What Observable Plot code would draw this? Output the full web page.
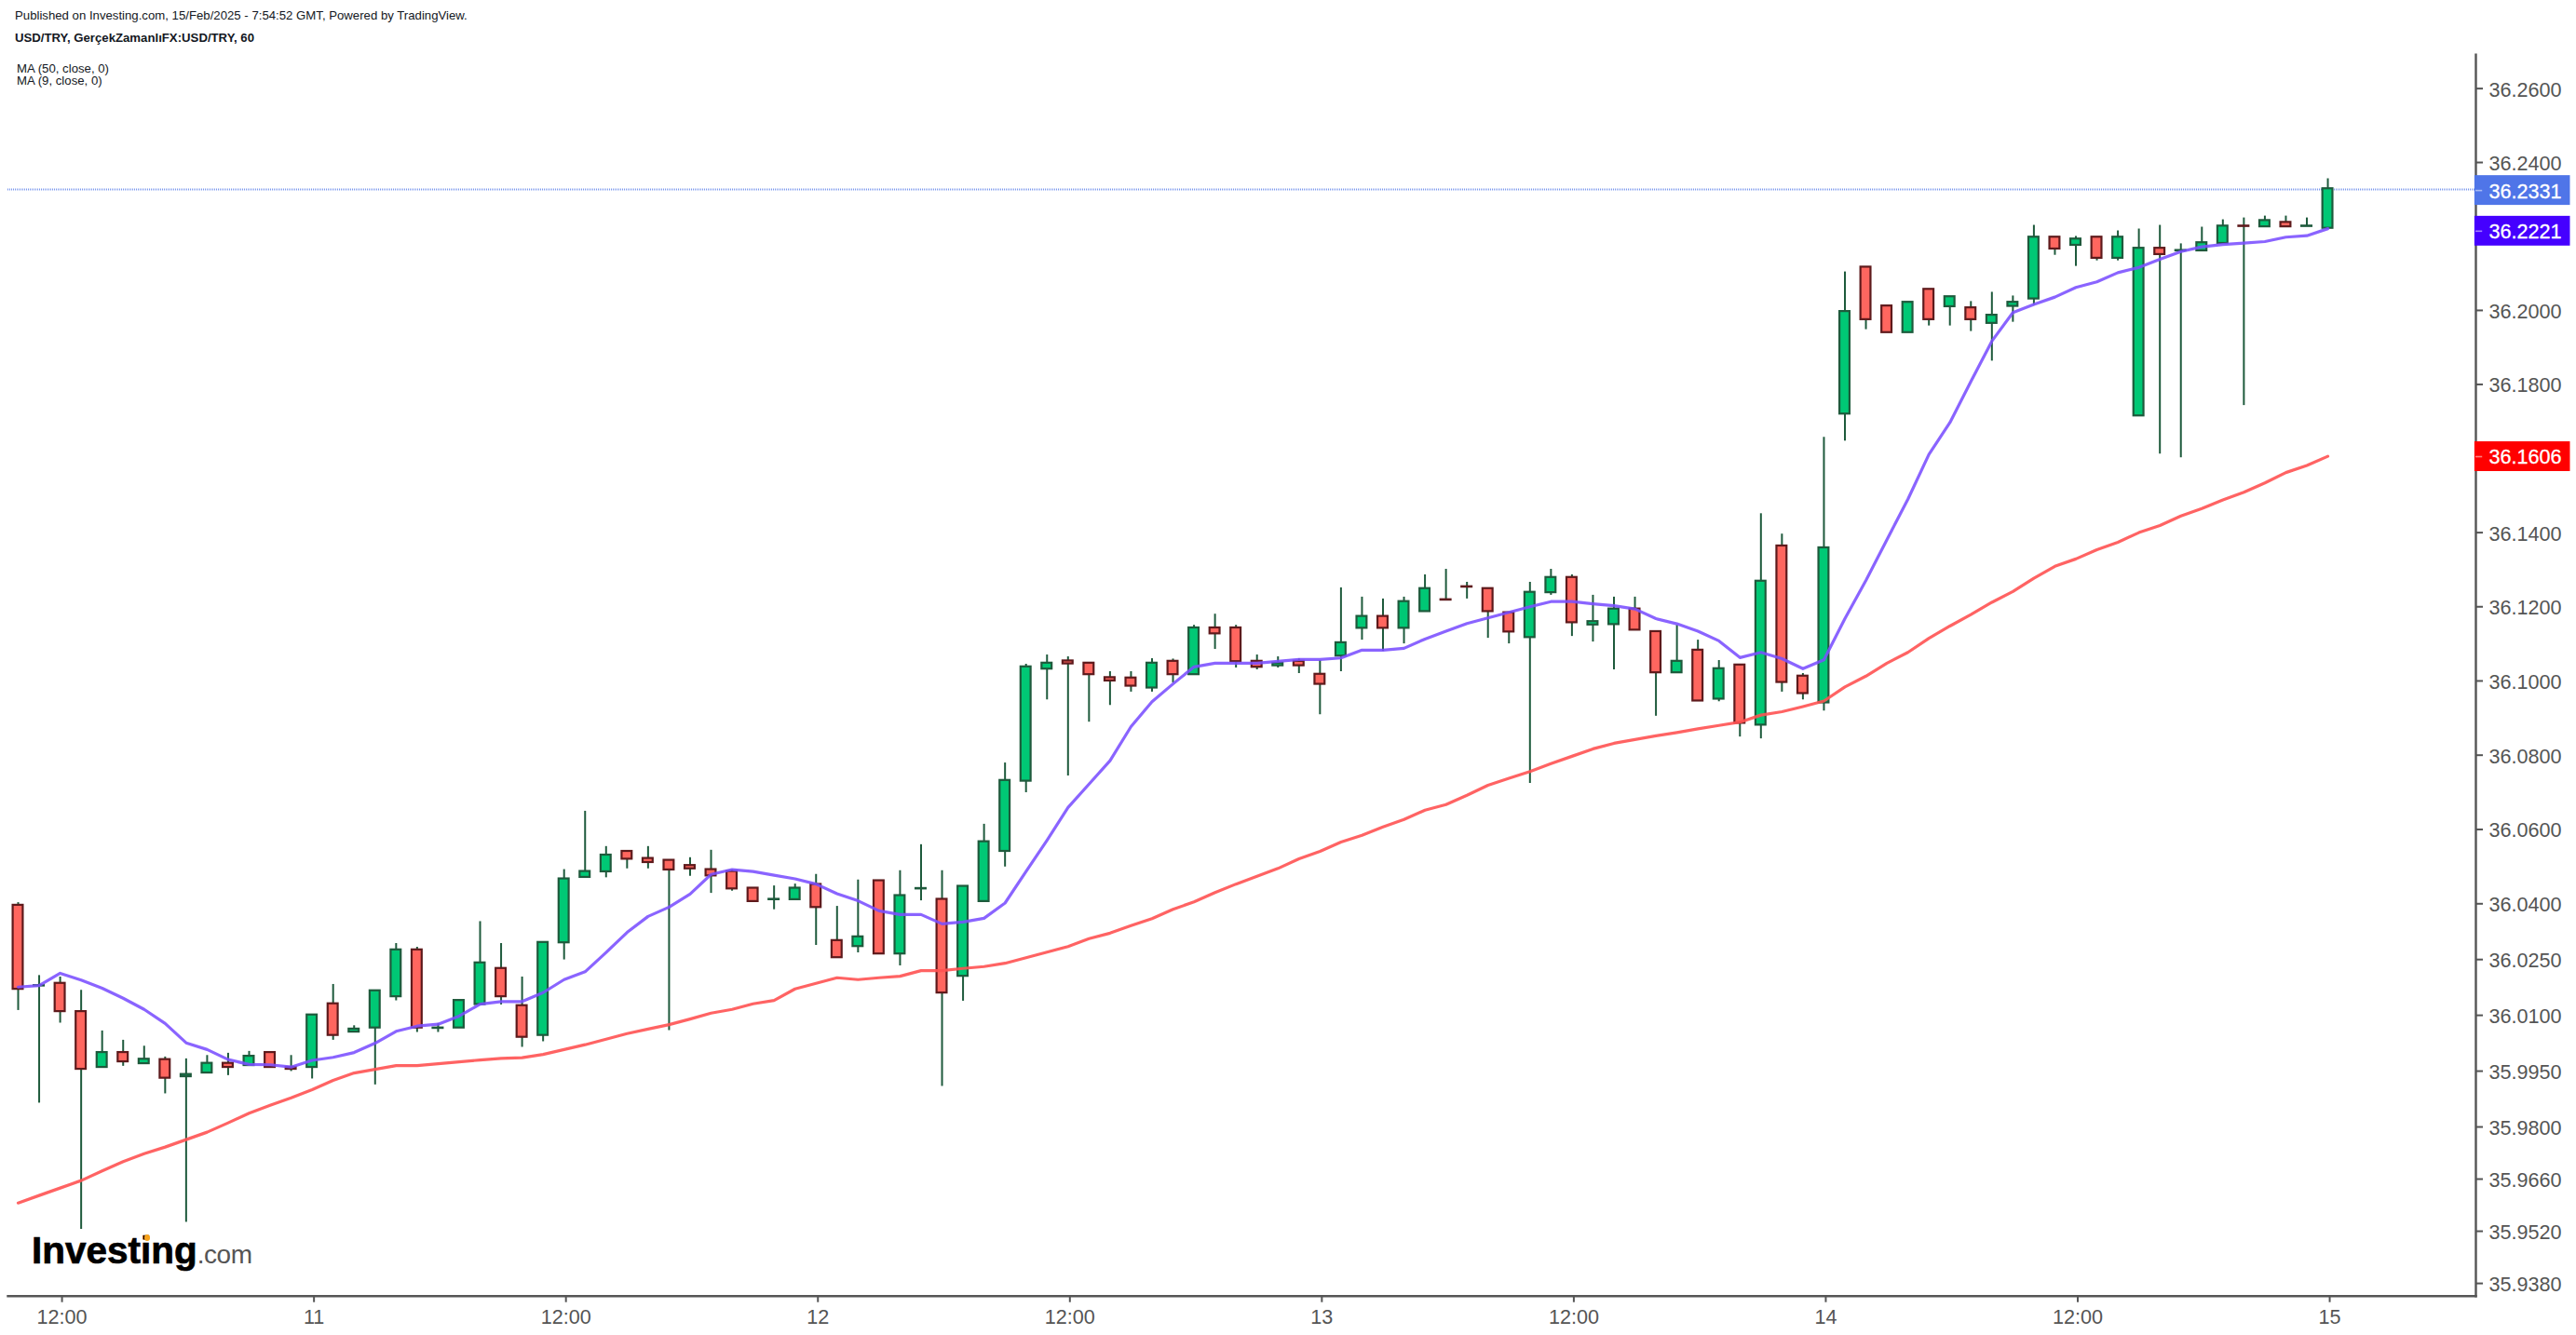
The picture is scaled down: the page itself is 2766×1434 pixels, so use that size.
<!DOCTYPE html>
<html>
<head>
<meta charset="utf-8">
<script src="https://cdn.jsdelivr.net/npm/d3@7"></script>
<script src="https://cdn.jsdelivr.net/npm/@observablehq/plot@0.6"></script>
<style>
  body { margin: 0; background: #fff; font-family: "Liberation Sans", Arial, sans-serif; }
  #wrap { position: relative; width: 2766px; height: 1434px; overflow: hidden; }
  #wrap svg { position: absolute; left: 0; top: 0; }
  .note { position: absolute; white-space: nowrap; color: #131722; font-size: 13.2px; line-height: 14px; z-index: 2; }
  .logo { position: absolute; left: 34px; top: 1320px; white-space: nowrap; color: #000; font-weight: bold; font-size: 40.5px; line-height: 46px; -webkit-text-stroke: 0.7px #000; z-index: 2; }
  .logo span { color: #555; font-weight: normal; font-size: 28px; letter-spacing: -0.5px; -webkit-text-stroke: 0; }
  .logo i { position: absolute; left: 121px; top: 6px; width: 6px; height: 7px; background: #f7a21b; border-radius: 3px; }
</style>
</head>
<body>
<div id="wrap">
  <div class="note" style="left:16px;top:10px">Published on Investing.com, 15/Feb/2025 - 7:54:52 GMT, Powered by TradingView.</div>
  <div class="note" style="left:16px;top:34px;font-weight:bold">USD/TRY, GerçekZamanlıFX:USD/TRY, 60</div>
  <div class="note" style="left:18px;top:67px;line-height:13px">MA (50, close, 0)<br>MA (9, close, 0)</div>
  <div class="logo">Investing<span>.com</span><i></i></div>
</div>
<script>
const open = [
  36.0396,36.0179,36.0186,36.0110,35.9960,36.0000,35.9970,35.9981,35.9935,35.9945,
  35.9971,35.9965,36.0000,35.9960,35.9960,36.0131,36.0055,36.0066,36.0150,36.0276,
  36.0065,36.0066,36.0129,36.0226,36.0126,36.0046,36.0295,36.0471,36.0486,36.0541,
  36.0522,36.0517,36.0503,36.0492,36.0487,36.0442,36.0411,36.0411,36.0452,36.0301,
  36.0285,36.0462,36.0265,36.0440,36.0412,36.0205,36.0406,36.0541,36.0730,36.1032,
  36.1054,36.1048,36.1009,36.1008,36.0981,36.1053,36.1017,36.1143,36.1143,36.1053,
  36.1041,36.1053,36.1018,36.1067,36.1142,36.1174,36.1142,36.1187,36.1219,36.1254,
  36.1249,36.1184,36.1117,36.1238,36.1279,36.1151,36.1152,36.1194,36.1133,36.1022,
  36.1083,36.0951,36.1043,36.0881,36.1364,36.1013,36.0941,36.1720,36.2117,36.2012,
  36.1940,36.2057,36.2010,36.2007,36.1965,36.2011,36.2031,36.2198,36.2176,36.2198,
  36.2141,36.1715,36.2168,36.2161,36.2161,36.2181,36.2228,36.2226,36.2238,36.2227,
  36.2222
];
const high = [
  36.0403,36.0207,36.0203,36.0167,36.0058,36.0033,36.0017,35.9988,35.9983,35.9992,
  35.9998,36.0003,36.0000,35.9992,36.0101,36.0183,36.0072,36.0166,36.0293,36.0283,
  36.0078,36.0140,36.0352,36.0293,36.0203,36.0296,36.0492,36.0649,36.0554,36.0541,
  36.0554,36.0517,36.0524,36.0544,36.0491,36.0442,36.0448,36.0453,36.0479,36.0393,
  36.0464,36.0462,36.0489,36.0559,36.0489,36.0447,36.0614,36.0779,36.1045,36.1070,
  36.1065,36.1048,36.1025,36.1025,36.1060,36.1059,36.1150,36.1180,36.1150,36.1070,
  36.1065,36.1060,36.1055,36.1251,36.1226,36.1221,36.1226,36.1286,36.1301,36.1266,
  36.1249,36.1184,36.1266,36.1301,36.1286,36.1231,36.1226,36.1226,36.1133,36.1150,
  36.1110,36.1055,36.1043,36.1451,36.1396,36.1020,36.1657,36.2104,36.2117,36.2012,
  36.2022,36.2057,36.2037,36.2024,36.2049,36.2039,36.2230,36.2198,36.2200,36.2198,
  36.2215,36.2220,36.2230,36.2180,36.2225,36.2245,36.2250,36.2255,36.2255,36.2250,
  36.2356
];
const low = [
  36.0113,35.9864,36.0079,35.9525,35.9960,35.9963,35.9970,35.9889,35.9544,35.9945,
  35.9938,35.9965,35.9960,35.9949,35.9929,36.0033,36.0055,35.9913,36.0139,36.0054,
  36.0054,36.0066,36.0129,36.0128,36.0014,36.0029,36.0249,36.0471,36.0470,36.0494,
  36.0494,36.0059,36.0474,36.0428,36.0434,36.0406,36.0384,36.0411,36.0288,36.0255,
  36.0268,36.0265,36.0233,36.0408,35.9909,36.0138,36.0406,36.0499,36.0699,36.0949,
  36.0744,36.0889,36.0934,36.0970,36.0970,36.0995,36.1017,36.1085,36.1035,36.1030,
  36.1035,36.1020,36.0909,36.1025,36.1110,36.1080,36.1100,36.1187,36.1218,36.1221,
  36.1115,36.1100,36.0724,36.1231,36.1120,36.1105,36.1030,36.1137,36.0905,36.1022,
  36.0946,36.0944,36.0849,36.0844,36.0970,36.0949,36.0919,36.1647,36.1948,36.1940,
  36.1940,36.1958,36.1958,36.1943,36.1863,36.1968,36.2014,36.2149,36.2119,36.2134,
  36.2134,36.1715,36.1612,36.1602,36.2161,36.2181,36.1743,36.2226,36.2226,36.2227,
  36.2222
];
const close = [
  36.0170,36.0180,36.0110,35.9955,36.0000,35.9975,35.9982,35.9931,35.9941,35.9971,
  35.9960,35.9990,35.9960,35.9955,36.0101,36.0046,36.0063,36.0166,36.0276,36.0066,
  36.0066,36.0140,36.0241,36.0150,36.0041,36.0296,36.0467,36.0487,36.0531,36.0520,
  36.0511,36.0491,36.0494,36.0475,36.0440,36.0406,36.0412,36.0442,36.0390,36.0255,
  36.0311,36.0265,36.0422,36.0441,36.0160,36.0447,36.0567,36.0732,36.1038,36.1048,
  36.1046,36.1017,36.1000,36.0986,36.1048,36.1017,36.1143,36.1127,36.1052,36.1037,
  36.1048,36.1041,36.0991,36.1103,36.1174,36.1142,36.1214,36.1249,36.1218,36.1253,
  36.1187,36.1132,36.1239,36.1279,36.1157,36.1160,36.1194,36.1137,36.1022,36.1053,
  36.0946,36.1033,36.0886,36.1269,36.0996,36.0966,36.1359,36.1997,36.1975,36.1940,
  36.2022,36.1975,36.2037,36.1975,36.1987,36.2022,36.2198,36.2166,36.2193,36.2141,
  36.2198,36.2168,36.2151,36.2162,36.2183,36.2228,36.2227,36.2243,36.2226,36.2228,
  36.2329
];
const ma9 = [
  36.0176,36.0180,36.0213,36.0195,36.0173,36.0146,36.0116,36.0078,36.0026,36.0008,
  35.9981,35.9968,35.9967,35.9961,35.9979,35.9987,36.0000,36.0025,36.0057,36.0071,
  36.0076,36.0098,36.0130,36.0137,36.0137,36.0161,36.0196,36.0217,36.0269,36.0323,
  36.0366,36.0391,36.0426,36.0479,36.0492,36.0487,36.0477,36.0467,36.0453,36.0427,
  36.0408,36.0381,36.0371,36.0371,36.0346,36.0351,36.0361,36.0402,36.0487,36.0571,
  36.0659,36.0722,36.0785,36.0877,36.0944,36.0992,36.1038,36.1048,36.1048,36.1048,
  36.1053,36.1058,36.1058,36.1062,36.1083,36.1083,36.1088,36.1113,36.1134,36.1155,
  36.1170,36.1185,36.1200,36.1214,36.1214,36.1208,36.1203,36.1194,36.1168,36.1154,
  36.1134,36.1108,36.1063,36.1077,36.1060,36.1033,36.1057,36.1168,36.1271,36.1381,
  36.1490,36.1611,36.1697,36.1808,36.1917,36.1994,36.2016,36.2036,36.2062,36.2077,
  36.2102,36.2116,36.2138,36.2159,36.2172,36.2178,36.2182,36.2186,36.2198,36.2202,
  36.2221
];
const ma50 = [
  35.9596,35.9616,35.9636,35.9656,35.9682,35.9707,35.9728,35.9746,35.9766,35.9786,
  35.9811,35.9837,35.9858,35.9878,35.9900,35.9925,35.9945,35.9955,35.9965,35.9965,
  35.9970,35.9975,35.9980,35.9984,35.9986,35.9995,36.0008,36.0021,36.0036,36.0051,
  36.0063,36.0075,36.0090,36.0106,36.0116,36.0131,36.0140,36.0171,36.0186,36.0201,
  36.0196,36.0201,36.0205,36.0220,36.0220,36.0226,36.0231,36.0240,36.0255,36.0270,
  36.0285,36.0306,36.0321,36.0341,36.0360,36.0385,36.0405,36.0430,36.0453,36.0474,
  36.0495,36.0521,36.0541,36.0566,36.0584,36.0607,36.0627,36.0652,36.0667,36.0692,
  36.0719,36.0738,36.0756,36.0777,36.0797,36.0817,36.0832,36.0842,36.0852,36.0861,
  36.0871,36.0880,36.0889,36.0908,36.0917,36.0931,36.0946,36.0984,36.1013,36.1048,
  36.1077,36.1115,36.1148,36.1179,36.1212,36.1241,36.1277,36.1309,36.1329,36.1354,
  36.1374,36.1400,36.1419,36.1445,36.1465,36.1488,36.1509,36.1534,36.1562,36.1581,
  36.1606
];

// hours since 10 Feb 00:00, first bar is 10:00
const hours = open.map((_, i) => 10 + i);
const xTickHours = [12, 24, 36, 48, 60, 72, 84, 96, 108, 120];
const xTickLabels = ["12:00", "11", "12:00", "12", "12:00", "13", "12:00", "14", "12:00", "15"];
const yTicks = [36.26, 36.24, 36.2, 36.18, 36.14, 36.12, 36.1, 36.08, 36.06, 36.04, 36.025, 36.01, 35.995, 35.98, 35.966, 35.952, 35.938];
const lastPrice = 36.2331;
const badgeValues = [36.2331, 36.2221, 36.1606];
const badgeColors = ["#4f75e8", "#4500ff", "#ff0000"];

const candles = hours.map((h, i) => ({ h, o: open[i], hi: high[i], lo: low[i], c: close[i], up: close[i] >= open[i] }));
const badges = badgeValues.map((v, i) => ({ v, color: badgeColors[i] }));
const halfBody = 0.24;
const xStart = 9.512;
const xEnd = 127.05;
const axisColor = "#555";

// the red label sits right on its value, the two upper ones a bit under it
const badgeMarks = (list, dy) => [
  Plot.rect(list, {
    x1: xEnd - 0.05,
    x2: xEnd + 4.5,
    y1: d => d.v * (1 - 0.000111),
    y2: d => d.v * (1 + 0.000111),
    fill: "color",
    dy
  }),
  Plot.ruleY(list, { y: "v", x1: xEnd, x2: xEnd + 0.32, stroke: "#fff", strokeOpacity: 0.5, strokeWidth: 1.6, dy }),
  Plot.text(list, {
    x: xEnd,
    y: "v",
    text: d => d.v.toFixed(4),
    fill: "#fff",
    fontSize: 21.6,
    textAnchor: "start",
    dx: 14,
    dy: dy + 1,
    stroke: "#fff",
    strokeWidth: 0.3
  })
];

const chart = Plot.plot({
  width: 2766,
  height: 1434,
  marginLeft: 8,
  marginRight: 108,
  marginTop: 58.3,
  marginBottom: 42.3,
  style: { fontFamily: "Liberation Sans, Arial, sans-serif", background: "transparent" },
  x: { type: "linear", domain: [xStart, xEnd] },
  y: { type: "log", domain: [35.9346, 36.26916] },
  marks: [
    Plot.ruleY([lastPrice], { x1: xStart, x2: xEnd, stroke: "#4f75e8", strokeWidth: 2, strokeOpacity: 0.75, strokeDasharray: "1 1", dy: 1.5 }),
    Plot.ruleX(candles, { x: "h", y1: "lo", y2: "hi", stroke: "#1e5a3c", strokeWidth: 2 }),
    Plot.rect(candles, {
      x1: d => d.h - halfBody,
      x2: d => d.h + halfBody,
      y1: "o",
      y2: "c",
      fill: d => d.up ? "#00c875" : "#ff665f",
      stroke: d => d.up ? "#1e5a3c" : "#5e1a1c",
      strokeWidth: 2.2
    }),
    Plot.line(candles, { x: "h", y: ma50, stroke: "#ff5252", strokeWidth: 3.2, strokeOpacity: 0.9 }),
    Plot.line(candles, { x: "h", y: ma9, stroke: "#7a4fff", strokeWidth: 3.2, strokeOpacity: 0.88 }),
    Plot.frame({ anchor: "right", stroke: axisColor, strokeWidth: 2.4 }),
    Plot.frame({ anchor: "bottom", stroke: axisColor, strokeWidth: 2.4 }),
    Plot.axisY({ anchor: "right", ticks: yTicks, tickSize: 7, text: null, label: null, stroke: axisColor, strokeWidth: 2 }),
    Plot.axisY({
      anchor: "right",
      ticks: yTicks,
      tickFormat: d => d.toFixed(4),
      tickSize: 0,
      tickPadding: 14,
      label: null,
      fontSize: 21.6,
      fill: axisColor,
      dy: 1.5
    }),
    Plot.axisX({
      anchor: "bottom",
      ticks: xTickHours,
      tickFormat: h => xTickLabels[xTickHours.indexOf(h)],
      tickSize: 7,
      tickPadding: 7,
      label: null,
      fontSize: 21.6,
      stroke: axisColor,
      fill: axisColor,
      strokeWidth: 2,
      dx: 2
    }),
    ...badgeMarks(badges.slice(0, 2), 2.7),
    ...badgeMarks(badges.slice(2), 0.4)
  ]
});

document.getElementById("wrap").appendChild(chart);
</script>
</body>
</html>
